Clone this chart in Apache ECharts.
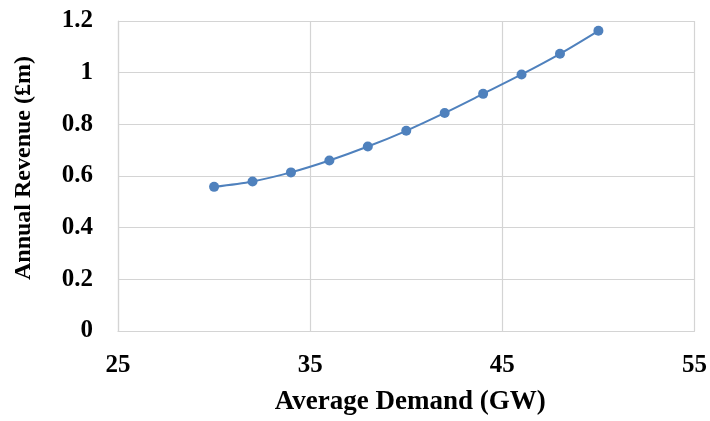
<!DOCTYPE html>
<html>
<head>
<meta charset="utf-8">
<script src="https://cdn.jsdelivr.net/npm/echarts@6/dist/echarts.min.js"></script>
<style>html,body{margin:0;padding:0;background:#fff}#c{width:710px;height:421px}</style>
</head>
<body>
<div id="c"></div>
<script>
const demand = [30, 32, 34, 36, 38, 40, 42, 44, 46, 48, 50];
const revenue = [0.558, 0.579, 0.614, 0.660, 0.714, 0.775, 0.844, 0.918, 0.993, 1.073, 1.162];
const xTitle = 'Average Demand (GW)';
const yTitle = 'Annual Revenue (£m)';

const font = '"Liberation Serif", "Times New Roman", serif';
const chart = echarts.init(document.getElementById('c'), null, {renderer: 'canvas'});
chart.setOption({
  animation: false,
  backgroundColor: '#fff',
  grid: {left: 118, right: 13, top: 21, bottom: 89},
  xAxis: {
    type: 'value', min: 25, max: 55, interval: 10,
    name: xTitle, nameLocation: 'middle', nameGap: 58,
    nameTextStyle: {fontFamily: font, fontWeight: 'bold', fontSize: 27, color: '#000', padding: [0, 0, 0, 8]},
    axisLine: {show: true, lineStyle: {color: '#d4d4d4', width: 1.2}},
    axisTick: {show: false},
    axisLabel: {fontFamily: font, fontWeight: 'bold', fontSize: 25, color: '#000', margin: 22},
    splitLine: {show: true, lineStyle: {color: '#d4d4d4', width: 1.2}}
  },
  yAxis: {
    type: 'value', min: 0, max: 1.2, interval: 0.2,
    name: yTitle, nameLocation: 'middle', nameGap: 82,
    nameTextStyle: {fontFamily: font, fontWeight: 'bold', fontSize: 24, color: '#000', padding: [0, 0, 0, 16]},
    axisLine: {show: true, lineStyle: {color: '#d4d4d4', width: 1.2}},
    axisTick: {show: false},
    axisLabel: {fontFamily: font, fontWeight: 'bold', fontSize: 25, color: '#000', margin: 25,
      formatter: v => String(Math.round(v * 10) / 10)},
    splitLine: {show: true, lineStyle: {color: '#d4d4d4', width: 1.2}}
  },
  series: [{
    type: 'line',
    data: demand.map((d, i) => [d, revenue[i]]),
    smooth: 0.3,
    symbol: 'circle', symbolSize: 10,
    lineStyle: {color: '#4F81BD', width: 2},
    itemStyle: {color: '#4F81BD'}
  }]
});
</script>
</body>
</html>
